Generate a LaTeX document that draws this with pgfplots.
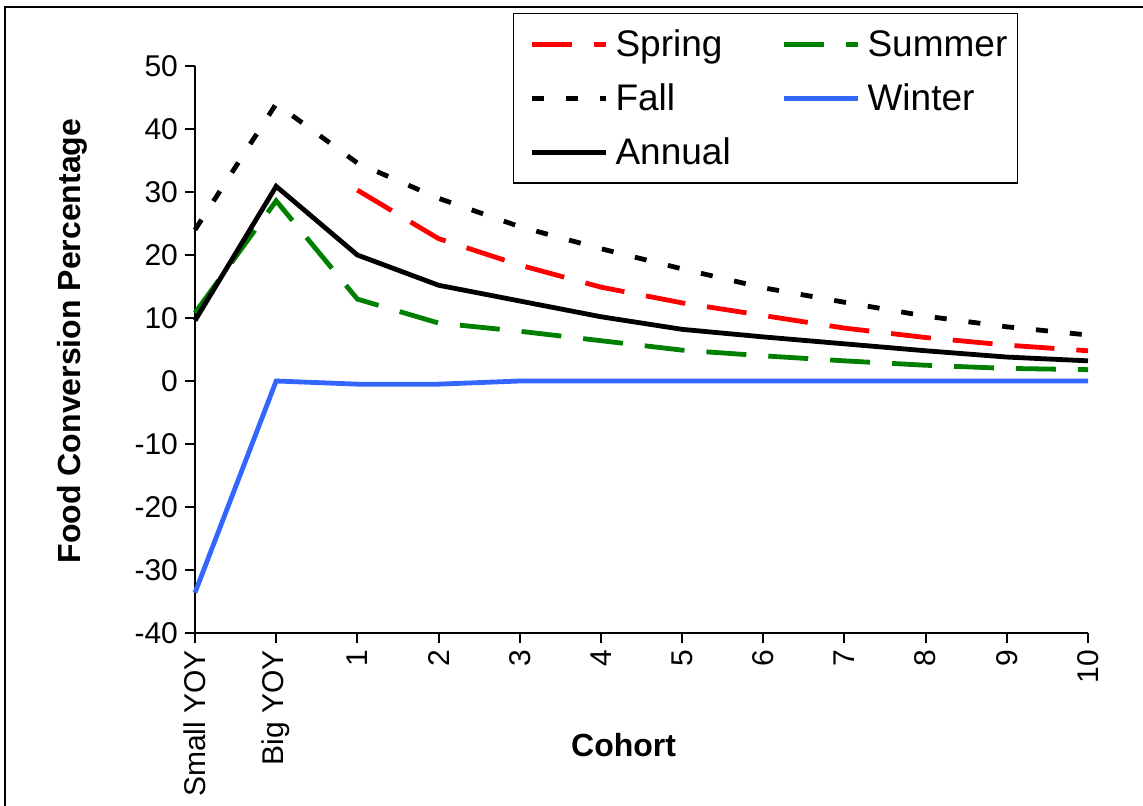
\documentclass[border=0pt]{standalone}
\usepackage{pgfplots}
\pgfplotsset{compat=1.18}
\usepackage{fontspec}
\setmainfont{Liberation Sans}
\definecolor{winterblue}{HTML}{3366FF}
\definecolor{summergreen}{HTML}{008000}
\begin{document}
\begin{tikzpicture}
\begin{axis}[
  at={(0,0)}, anchor=south west,
  scale only axis, width=446.5pt, height=283.5pt,
  xmin=0, xmax=11, ymin=-40, ymax=50,
  axis x line=bottom, axis y line=left,
  axis line style={-, line width=1pt, black},
  tick style={black, line width=1pt},
  tick align=outside, major tick length=5pt,
  ytick={-40,-30,...,50},
  xtick={0,...,11},
  xticklabels={Small YOY, Big YOY, 1, 2, 3, 4, 5, 6, 7, 8, 9, 10},
  x tick label style={rotate=90, anchor=east},
  tick label style={font=\fontsize{15}{18}\selectfont},
  /pgf/number format/assume math mode=true,
  xlabel={\textbf{Cohort}},
  ylabel={\textbf{Food Conversion Percentage}},
  label style={font=\fontsize{16}{19}\selectfont},
  xlabel style={at={(axis description cs:0.48,-0.1975)}, anchor=center},
  ylabel style={at={(axis description cs:-0.1377,0.515)}, anchor=center},
  clip=false,
  legend columns=2,
  legend cell align=left,
  legend image code/.code={\path (0pt,0pt); \draw[#1] (5pt,0pt) -- (42pt,0pt);},
  legend style={at={(0.3561,1.0935)}, anchor=north west, draw=black,
    line width=0.75pt, font=\fontsize{18.5}{22}\selectfont,
    inner xsep=3pt, inner ysep=6pt, row sep=8pt,
    /tikz/every odd column/.append style={column sep=1.5pt},
    /tikz/every even column/.append style={column sep=18.5pt}},
]
\addplot[red, line width=2.4pt, dash pattern=on 20pt off 11pt] coordinates {
 (2,30.3) (3,22.6) (4,18.4) (5,14.9) (6,12.4) (7,10.4) (8,8.4) (9,6.9) (10,5.7) (11,4.8)};
\addlegendentry{Spring}
\addplot[summergreen, line width=2.4pt, dash pattern=on 20pt off 11pt] coordinates {
 (0,10.8) (1,28.6) (2,13.0) (3,9.2) (4,7.9) (5,6.4) (6,4.9) (7,4.0) (8,3.2) (9,2.5) (10,2.0) (11,1.8)};
\addlegendentry{Summer}
\addplot[black, line width=2.4pt, dash pattern=on 6pt off 11pt] coordinates {
 (0,24.0) (1,44.0) (2,34.6) (3,29.0) (4,24.5) (5,21.0) (6,17.8) (7,14.8) (8,12.5) (9,10.3) (10,8.6) (11,7.3)};
\addlegendentry{Fall}
\addplot[winterblue, line width=2.4pt] coordinates {
 (0,-33.6) (1,0) (2,-0.5) (3,-0.5) (4,0) (5,0) (6,0) (7,0) (8,0) (9,0) (10,0) (11,0)};
\addlegendentry{Winter}
\addplot[black, line width=2.4pt] coordinates {
 (0,9.6) (1,30.9) (2,20.0) (3,15.2) (4,12.7) (5,10.2) (6,8.2) (7,7.0) (8,5.9) (9,4.8) (10,3.8) (11,3.2)};
\addlegendentry{Annual}
\end{axis}
\draw[line width=1pt] (-95pt,-100pt) -- (-95pt,313pt) -- (480pt,313pt);
\pgfresetboundingbox
\path[use as bounding box] (-97.5pt,-86.5pt) rectangle (474pt,316.5pt);
\end{tikzpicture}
\end{document}
